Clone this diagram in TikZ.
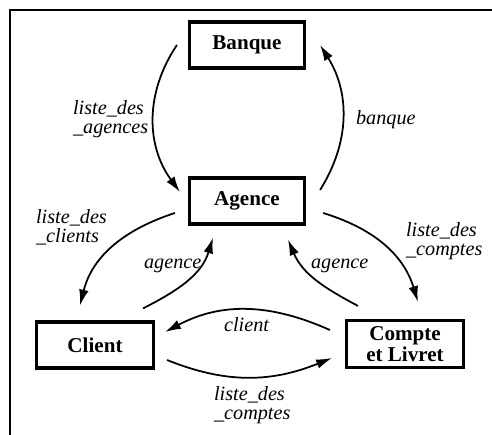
\documentclass[tikz,border=0pt]{standalone}
\usepackage{fontspec}
\setmainfont{Liberation Serif}
\usepackage{tikz}
\usetikzlibrary{arrows.meta, calc}

\begin{document}
\begin{tikzpicture}[
    entity/.style={draw, line width=1.8pt, minimum width=2.3cm, minimum height=0.92cm, align=center, font=\bfseries\fontsize{12}{12}\selectfont},
    role/.style={anchor=west, align=left, inner sep=1pt, font=\itshape\fontsize{11.5}{11}\selectfont},
    link/.style={-{Latex[length=9pt,width=5.5pt]}, line width=1pt}
]
    \useasboundingbox (0,0) rectangle (9.84,-8.70);
    % frame of the scanned page
    \draw[line width=0.7pt] (0.2,-8.70) -- (0.2,-0.2) -- (9.84,-0.2);

    \node[entity] (banque) at (4.94,-0.90) {Banque};
    \node[entity] (agence) at (4.94,-4.02) {Agence};
    \node[entity, minimum width=2.34cm] (client) at (1.90,-6.90) {Client};
    \node[entity, minimum width=2.34cm] (compte) at (8.10,-6.88) {Compte\\et Livret};

    \draw[link] ($(banque.west)+(-0.22,0)$) to[bend right=35] ($(agence.west)+(-0.16,0.18)$);
    \draw[link] ($(agence.east)+(0.28,0.22)$) to[bend right=32] ($(banque.east)+(0.28,0)$);
    \draw[link] ($(agence.west)+(-0.26,-0.24)$) to[out=198,in=76] ($(client.north)+(-0.30,0.30)$);
    \draw[link] ($(client.north)+(0.96,0.24)$) to[out=27,in=253] ($(agence.south)+(-0.68,-0.24)$);
    \draw[link] ($(compte.north)+(-0.94,0.26)$) to[out=152,in=293] ($(agence.south)+(0.82,-0.28)$);
    \draw[link] ($(agence.east)+(0.34,-0.24)$) to[out=-17,in=107] ($(compte.north)+(0.26,0.34)$);
    \draw[link] ($(compte.west)+(-0.30,0.28)$) to[out=156,in=28] ($(client.east)+(0.20,0.26)$);
    \draw[link] ($(client.east)+(0.24,-0.30)$) to[out=-22,in=202] ($(compte.west)+(-0.26,-0.28)$);

    % role names
    \node[role] (lagences) at (1.42,-2.38) {liste\_des\\\_agences};
    \node[role] (lbanque) at (7.08,-2.40) {banque};
    \node[role] (lclients) at (0.68,-4.54) {liste\_des\\\_clients};
    \node[role] (lagence1) at (2.84,-5.32) {agence};
    \node[role] (lagence2) at (6.18,-5.32) {agence};
    \node[role] (lcomptes1) at (8.08,-4.82) {liste\_des\\\_comptes};
    \node[role] (lclient) at (4.44,-6.50) {client};
    \node[role] (lcomptes2) at (4.24,-8.10) {liste\_des\\\_comptes};
\end{tikzpicture}
\end{document}
